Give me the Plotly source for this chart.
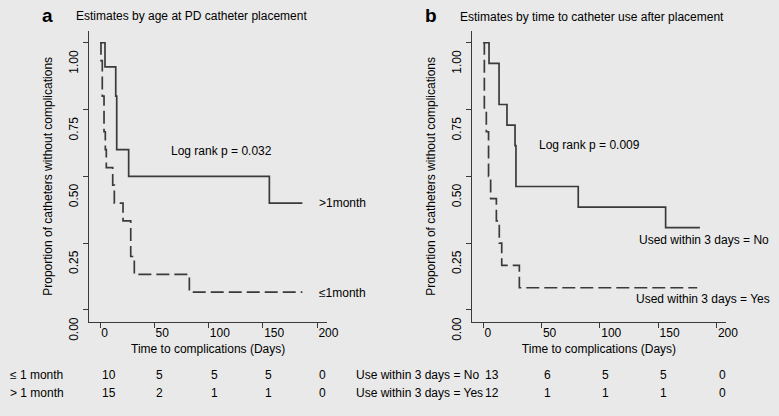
import plotly.graph_objects as go

# ---------------- data ----------------
# Panel a: estimates by age at PD catheter placement
a_gt1_time = [0, 4.6, 14.5, 15.4, 26.4, 156, 186.4]
a_gt1_surv = [1.0, 0.91, 0.80, 0.60, 0.50, 0.40, 0.40]
a_le1_time = [0, 0.9, 2.1, 3.7, 4.9, 5.8, 11.7, 13.2, 21.2, 28.3, 31.6, 82.3, 186.4]
a_le1_surv = [1.0, 0.933, 0.80, 0.667, 0.60, 0.533, 0.467, 0.40, 0.333, 0.20, 0.133, 0.067, 0.067]

# Panel b: estimates by time to catheter use after placement
b_no_time = [0, 4.9, 13.5, 20.3, 27.2, 28.0, 81.4, 156.3, 185.7]
b_no_surv = [1.0, 0.923, 0.769, 0.692, 0.615, 0.462, 0.385, 0.308, 0.308]
b_yes_time = [0, 0.9, 2.6, 4.5, 6.3, 11.2, 13.7, 15.8, 30.9, 183.4]
b_yes_surv = [1.0, 0.75, 0.667, 0.50, 0.417, 0.333, 0.25, 0.167, 0.083, 0.083]

# Number at risk tables
risk_times = [0, 50, 100, 150, 200]
a_risk_le1 = [10, 5, 5, 5, 0]
a_risk_gt1 = [15, 2, 1, 1, 0]
b_risk_no = [13, 6, 5, 5, 0]
b_risk_yes = [12, 1, 1, 1, 0]

x_ticks = [0, 50, 100, 150, 200]
y_ticks = [0, 0.25, 0.5, 0.75, 1.0]
y_ticktext = ["0.00", "0.25", "0.50", "0.75", "1.00"]

# ---------------- styling ----------------
W, H = 779, 416
BG = "#E9E9E9"
LINE = "#3A3A3A"
FONT = "Liberation Sans, Arial, sans-serif"

def px(x):
    return x / W

def py(y):
    return 1 - y / H

fig = go.Figure()

line_solid = dict(color=LINE, width=1.7, shape="hv")
line_dash = dict(color=LINE, width=1.7, shape="hv", dash="13px,5px")

fig.add_trace(go.Scatter(x=a_gt1_time, y=a_gt1_surv, mode="lines", line=line_solid,
                         xaxis="x", yaxis="y", name=">1month", showlegend=False))
fig.add_trace(go.Scatter(x=a_le1_time, y=a_le1_surv, mode="lines", line=line_dash,
                         xaxis="x", yaxis="y", name="≤1month", showlegend=False))
fig.add_trace(go.Scatter(x=b_no_time, y=b_no_surv, mode="lines", line=line_solid,
                         xaxis="x2", yaxis="y2", name="Used within 3 days = No", showlegend=False))
fig.add_trace(go.Scatter(x=b_yes_time, y=b_yes_surv, mode="lines", line=line_dash,
                         xaxis="x2", yaxis="y2", name="Used within 3 days = Yes", showlegend=False))

common_x = dict(showline=True, linecolor=LINE, linewidth=1.3, ticks="outside", ticklen=5,
                tickwidth=1.3, tickcolor=LINE, showgrid=False, zeroline=False,
                tickvals=x_ticks, ticklabelposition="outside right",
                tickfont=dict(size=12, color="black", family=FONT), automargin=False,
                title=dict(text="Time to complications (Days)", font=dict(size=12, color="black", family=FONT),
                           standoff=5))
common_y = dict(showline=True, linecolor=LINE, linewidth=1.3, ticks="outside", ticklen=5,
                tickwidth=1.3, tickcolor=LINE, showgrid=False, zeroline=False,
                tickvals=y_ticks, ticktext=y_ticktext, tickangle=-90, ticklabelshift=21,
                tickfont=dict(size=12, color="black", family=FONT), automargin=False,
                range=[-0.044, 1.044],
                title=dict(text="Proportion of catheters without complications",
                           font=dict(size=12, color="black", family=FONT), standoff=12))

y_dom = [py(321.7), py(31)]

fig.update_layout(
    width=W, height=H, margin=dict(l=0, r=0, t=0, b=0),
    paper_bgcolor=BG, plot_bgcolor=BG,
    font=dict(family=FONT, size=12, color="black"),
    xaxis=dict(common_x, domain=[px(89.3), px(327)], range=[-9.86, 209.1], anchor="y"),
    yaxis=dict(common_y, domain=y_dom, anchor="x"),
    xaxis2=dict(common_x, domain=[px(472.3), px(725.7)], range=[-9.43, 207.8], anchor="y2"),
    yaxis2=dict(common_y, domain=y_dom, anchor="x2"),
)

ann = []
def text(x, y, s, xanchor="left", size=12, bold=False, xref="paper", yref="paper"):
    ann.append(dict(x=x, y=y, xref=xref, yref=yref, text=("<b>%s</b>" % s) if bold else s,
                    showarrow=False, xanchor=xanchor, yanchor="middle",
                    font=dict(size=size, color="black", family=FONT)))

# Panel titles
text(px(40), py(16), "a", size=19, bold=True)
text(px(73.5), py(16), "Estimates by age at PD catheter placement")
text(px(423), py(16), "b", size=19, bold=True)
text(px(457.5), py(17), "Estimates by time to catheter use after placement")

# Log-rank annotations
text(px(221), py(151), "Log rank p = 0.032", xanchor="center")
text(px(589.5), py(145), "Log rank p = 0.009", xanchor="center")

# Curve labels
text(px(316.5), py(203), ">1month")
text(px(316.5), py(292.7), "≤1month")
text(px(770.5), py(240), "Used within 3 days = No", xanchor="right")
text(px(771.5), py(299.3), "Used within 3 days = Yes", xanchor="right")

# Number at risk tables
row1, row2 = py(375), py(393.3)
text(px(8), row1, "≤ 1 month")
text(px(8), row2, "> 1 month")
text(px(354), row1, "Use within 3 days = No")
text(px(354), row2, "Use within 3 days = Yes")
for t, v1, v2 in zip(risk_times, a_risk_le1, a_risk_gt1):
    text(t, row1, str(v1), xref="x")
    text(t, row2, str(v2), xref="x")
for t, v1, v2 in zip(risk_times, b_risk_no, b_risk_yes):
    text(t, row1, str(v1), xref="x2")
    text(t, row2, str(v2), xref="x2")

fig.update_layout(annotations=ann)
fig.write_html("out.html", config={"displayModeBar": False},
               post_script="document.body.style.margin='0';document.body.style.background='%s';" % BG)
